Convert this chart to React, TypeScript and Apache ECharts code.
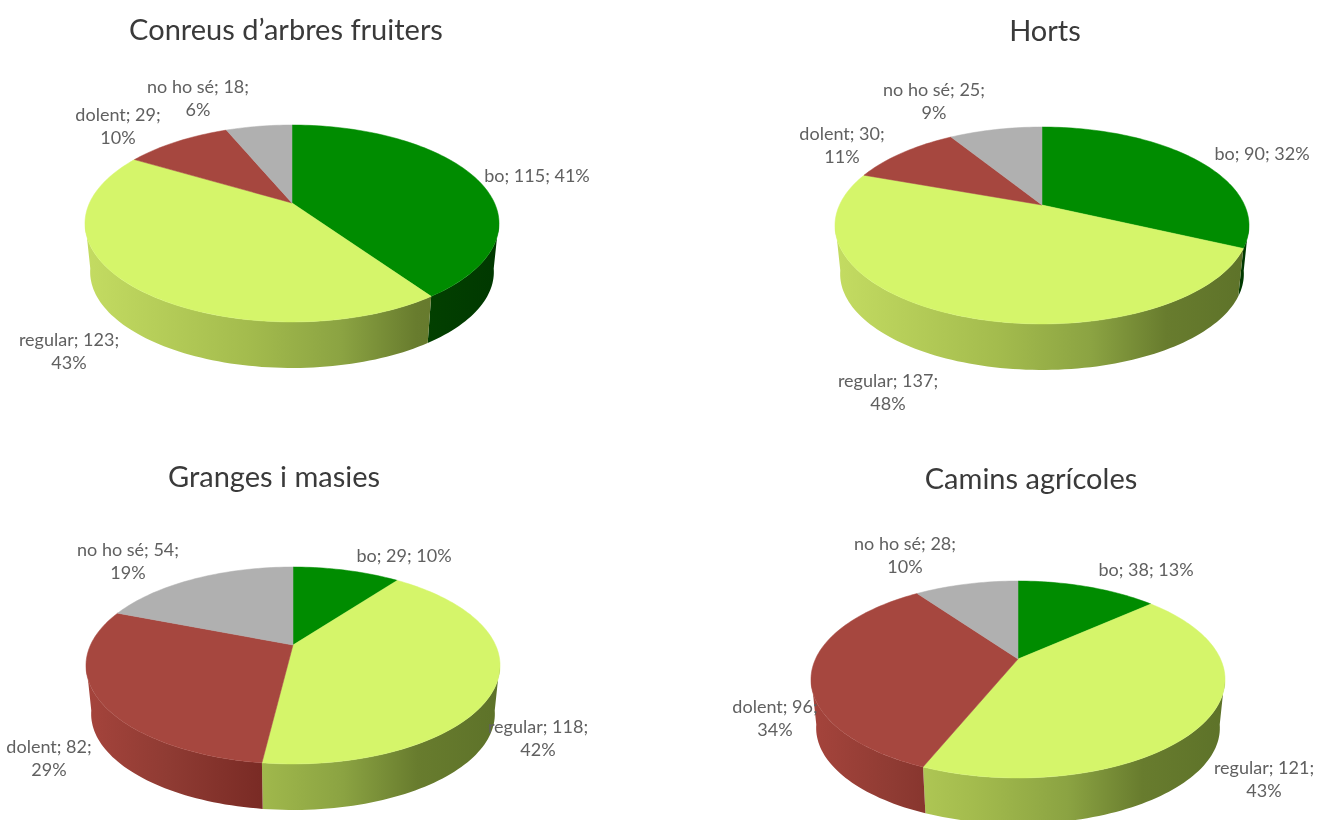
import React, { useEffect, useRef } from "react";
import * as echarts from "echarts";

const categories = ["bo", "regular", "dolent", "no ho sé"];
const titles = ["Conreus d’arbres fruiters", "Horts", "Granges i masies", "Camins agrícoles"];
const conreusValues = [115, 123, 29, 18];
const conreusPercents = [41, 43, 10, 6];
const hortsValues = [90, 137, 30, 25];
const hortsPercents = [32, 48, 11, 9];
const grangesValues = [29, 118, 82, 54];
const grangesPercents = [10, 42, 29, 19];
const caminsValues = [38, 121, 96, 28];
const caminsPercents = [13, 43, 34, 10];

const valueSets = [conreusValues, hortsValues, grangesValues, caminsValues];
const percentSets = [conreusPercents, hortsPercents, grangesPercents, caminsPercents];

// geometry of each drawn pie: apex position
const pieLayout = [
  { cx: 292, cy: 203, titleX: 286, titleY: 28 },
  { cx: 1042, cy: 205, titleX: 1045, titleY: 29 },
  { cx: 293, cy: 645, titleX: 274, titleY: 475 },
  { cx: 1018, cy: 659, titleX: 1031, titleY: 477 },
];
// label centres [x, y]; wrap = value/percent on a second line
const labelLayout = [
  [{ x: 537, y: 175, wrap: false }, { x: 69, y: 350, wrap: true }, { x: 118, y: 125, wrap: true }, { x: 198, y: 97, wrap: true }],
  [{ x: 1262, y: 153, wrap: false }, { x: 888, y: 391, wrap: true }, { x: 842, y: 144, wrap: true }, { x: 934, y: 100, wrap: true }],
  [{ x: 404, y: 555, wrap: false }, { x: 538, y: 737, wrap: true }, { x: 49, y: 757, wrap: true }, { x: 128, y: 560, wrap: true }],
  [{ x: 1146, y: 569, wrap: false }, { x: 1264, y: 778, wrap: true }, { x: 775, y: 717, wrap: true }, { x: 905, y: 554, wrap: true }],
];

const RX = 202.5;
const RY = 94.2;
const K = 0.208;
const DEPTH = 49;
const TAPER = 0.975;
const HALF_W = 207;

const topColors = ["#008c00", "#d5f56a", "#a6473f", "#b0b0b0"];
const wallStops = [
  [[0, "#0a6000"], [0.6, "#064a00"], [1, "#003800"]],
  [[0, "#c4dc62"], [0.4, "#a3bb4d"], [0.62, "#8ba342"], [0.8, "#687c2e"], [1, "#5d7229"]],
  [[0, "#a5443c"], [0.2, "#8f3b33"], [0.42, "#7a2b25"], [0.6, "#6f2320"], [1, "#6f2320"]],
  [[0, "#999999"], [1, "#666666"]],
];

const project = (deg: number) => {
  const t = (deg * Math.PI) / 180;
  const x = Math.sin(t);
  const y = -Math.cos(t);
  const d = 1 - K * y;
  return [(RX * x) / d, (RY * y) / d];
};

const arcAngles = (a0: number, a1: number) => {
  const out: number[] = [];
  const n = Math.max(2, Math.ceil((a1 - a0) / 1.5));
  for (let i = 0; i <= n; i++) out.push(a0 + ((a1 - a0) * i) / n);
  return out;
};

const pieSeries = (idx: number) => {
  const values = valueSets[idx];
  const { cx, cy } = pieLayout[idx];
  const total = values.reduce((a, b) => a + b, 0);
  return {
    type: "custom",
    coordinateSystem: "none",
    silent: true,
    data: values.map((v) => [v]),
    renderItem: (params: any, api: any) => {
      const i = params.dataIndex;
      const before = values.slice(0, i).reduce((a, b) => a + b, 0);
      const a0 = (before / total) * 360;
      const a1 = ((before + api.value(0)) / total) * 360;
      const children: any[] = [];
      const w0 = Math.max(a0, 100);
      const w1 = Math.min(a1, 260);
      if (w1 > w0) {
        const angles = arcAngles(w0, w1);
        const upper = angles.map((a) => {
          const [x, y] = project(a);
          return [cx + x, cy + y];
        });
        const lower = angles
          .map((a) => {
            const [x, y] = project(a);
            return [cx + x * TAPER, cy + y * TAPER + DEPTH];
          })
          .reverse();
        children.push({
          type: "polygon",
          shape: { points: [...upper, ...lower] },
          style: {
            fill: new echarts.graphic.LinearGradient(
              cx - HALF_W, 0, cx + HALF_W, 0,
              wallStops[i].map(([offset, color]) => ({ offset, color })) as any,
              true
            ),
          },
        });
      }
      const rim = arcAngles(a0, a1).map((a) => {
        const [x, y] = project(a);
        return [cx + x, cy + y];
      });
      children.push({
        type: "polygon",
        shape: { points: [[cx, cy], ...rim] },
        style: { fill: topColors[i], stroke: topColors[i], lineWidth: 0.5 },
      });
      return { type: "group", children };
    },
  };
};

const labelSeries = (idx: number) => {
  const values = valueSets[idx];
  const percents = percentSets[idx];
  return {
    type: "custom",
    coordinateSystem: "none",
    silent: true,
    z: 5,
    data: values.map((v) => [v]),
    renderItem: (params: any, api: any) => {
      const i = params.dataIndex;
      const pos = labelLayout[idx][i];
      const head = `${categories[i]}; ${api.value(0)};`;
      const tail = `${percents[i]}%`;
      return {
        type: "text",
        x: pos.x,
        y: pos.y,
        style: {
          text: pos.wrap ? `${head}\n${tail}` : `${head} ${tail}`,
          fill: "#606060",
          font: '18px Lato, "Open Sans", sans-serif',
          lineHeight: 23,
          align: "center",
          verticalAlign: "middle",
          textAlign: "center",
          textVerticalAlign: "middle",
        },
      };
    },
  };
};

export default function App() {
  const ref = useRef<HTMLDivElement>(null);
  useEffect(() => {
    if (!ref.current) return;
    const chart = echarts.init(ref.current, undefined, { renderer: "svg" });
    chart.setOption({
      animation: false,
      backgroundColor: "#ffffff",
      title: titles.map((text, i) => ({
        text,
        left: pieLayout[i].titleX,
        top: pieLayout[i].titleY - 15,
        padding: 0,
        textAlign: "center",
        textStyle: {
          color: "#3a3a3a",
          fontFamily: "Lato, sans-serif",
          fontSize: 29,
          fontWeight: "normal",
          lineHeight: 30,
        },
      })),
      series: [
        ...titles.map((_, i) => pieSeries(i)),
        ...titles.map((_, i) => labelSeries(i)),
      ],
    });
    return () => chart.dispose();
  }, []);
  return (
    <div
      ref={ref}
      style={{ position: "fixed", left: 0, top: 0, width: 1320, height: 820, filter: "blur(0.5px)" }}
    />
  );
}
